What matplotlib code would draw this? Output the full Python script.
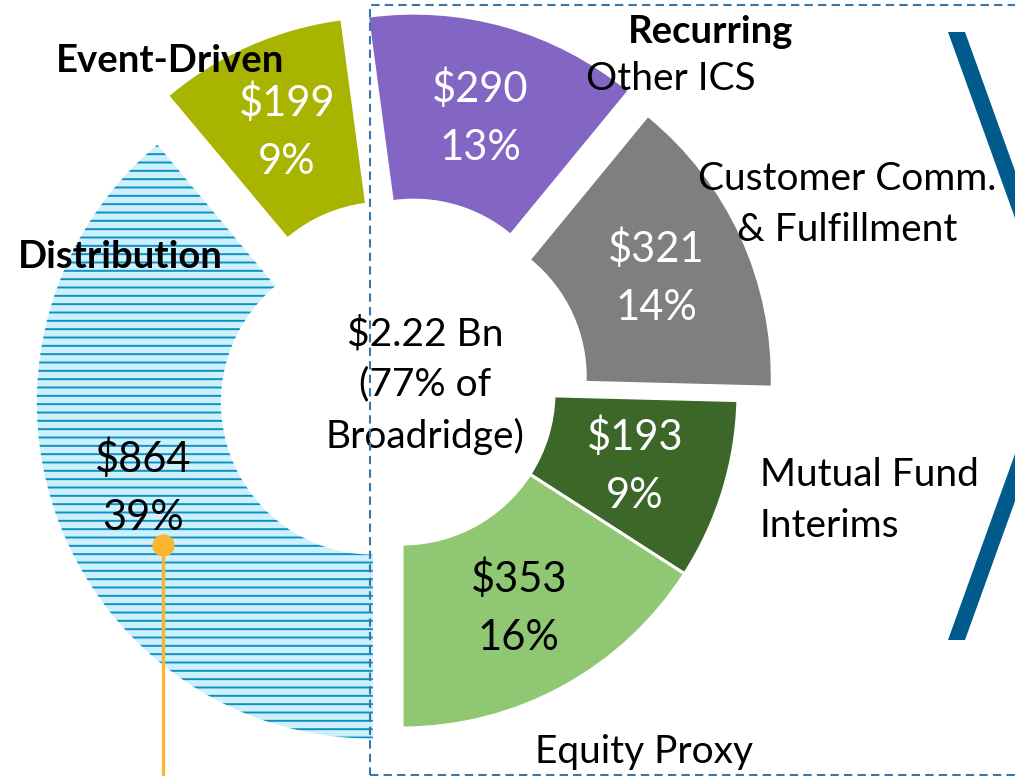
import matplotlib.pyplot as plt
import numpy as np
from matplotlib.patches import Polygon, Rectangle

plt.rcParams['font.family'] = ['Lato', 'DejaVu Sans']
plt.rcParams['hatch.linewidth'] = 1.4

# revenue by segment, $M (clockwise from the bottom)
segments = ["Distribution", "Event-Driven", "Other ICS",
            "Customer Comm.\n& Fulfillment", "Mutual Fund\nInterims", "Equity Proxy"]
revenue = [864, 199, 290, 321, 193, 353]
total_label = "$2.22 Bn\n(77% of\nBroadridge)"

colors = ["#CCF1FD", "#A9B400", "#8366C4", "#7F7F7F", "#3D6629", "#8FC773"]
value_colors = ["black", "white", "white", "white", "white", "black"]
explode = [31, 42, 43, 36, 0, 0]

W, H = 1015, 776
fig = plt.figure(figsize=(W / 100, H / 100), dpi=100)
ax = fig.add_axes([0, 0, 1, 1])

R = 336
wedges, _ = ax.pie(revenue, explode=explode, colors=colors, startangle=-90,
                   counterclock=False, radius=R, center=(402, H - 392),
                   wedgeprops=dict(width=184, linewidth=0))
ax.set_xlim(0, W)
ax.set_ylim(0, H)
ax.set_aspect('equal')
ax.axis('off')

# distribution slice is hatched
wedges[0].set_edgecolor("#1090C2")
wedges[0].set_hatch("--")
wedges[0].set_linewidth(0)
for w in wedges[4:]:
    w.set_edgecolor("white")
    w.set_linewidth(2.2)

total = sum(revenue)
for w, v, c in zip(wedges, revenue, value_colors):
    tm = np.deg2rad((w.theta1 + w.theta2) / 2)
    cx = w.center[0] + 0.726 * R * np.cos(tm)
    cy = w.center[1] + 0.726 * R * np.sin(tm)
    ax.text(cx, cy + 14, f"${v}", color=c, fontsize=30, ha='center', va='baseline')
    ax.text(cx, cy - 44, f"{v / total * 100:.0f}%", color=c, fontsize=30,
            ha='center', va='baseline')

# category labels (va='baseline' sits on the last line)
ax.text(170, H - 72, "Event-Driven", fontsize=27.5, fontweight='bold', ha='center', va='baseline')
ax.text(120, H - 268, "Distribution", fontsize=27.5, fontweight='bold', ha='center', va='baseline')
ax.text(711, H - 43, "Recurring", fontsize=27.5, fontweight='bold', ha='center', va='baseline')
ax.text(671, H - 90, segments[2], fontsize=28, ha='center', va='baseline')
ax.text(847, H - 241, segments[3], fontsize=28, ha='center', va='baseline', linespacing=1.5)
ax.text(760, H - 537, segments[4], fontsize=28, ha='left', va='baseline', linespacing=1.5)
ax.text(644, H - 763, segments[5], fontsize=28, ha='center', va='baseline')
ax.text(425, H - 448, total_label, fontsize=28, ha='center', va='baseline', linespacing=1.5)

# recurring box
ax.add_patch(Rectangle((370, H - 775), 660, 770, fill=False, edgecolor="#3A76A8",
                       linestyle=(0, (4, 2.5)), linewidth=1.5, zorder=5))

# chevron
s = 0.36
ax.add_patch(Polygon([(948, H - 32), (965, H - 32), (965 + s * 310, H - 342), (948 + s * 310, H - 342)],
                     closed=True, color="#005A8C", linewidth=0, zorder=4))
ax.add_patch(Polygon([(948, H - 640), (965, H - 640), (965 + s * 310, H - 330), (948 + s * 310, H - 330)],
                     closed=True, color="#005A8C", linewidth=0, zorder=4))

# pointer
ax.plot([163, 163], [H - 545, 0], color="#FBB52F", linewidth=2.4, zorder=6)
ax.plot([163], [H - 545], marker='o', markersize=15, color="#FBB52F", zorder=6)

fig.savefig("out.png", dpi=100)
